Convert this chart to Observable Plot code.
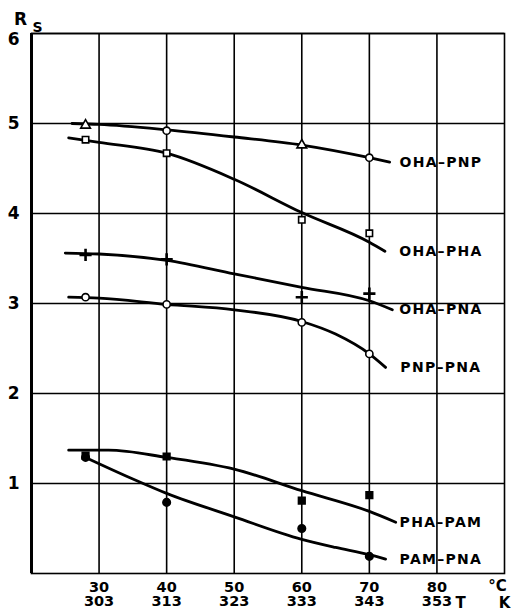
<!DOCTYPE html>
<html>
<head>
<meta charset="utf-8">
<script src="https://cdn.jsdelivr.net/npm/d3@7"></script>
<script src="https://cdn.jsdelivr.net/npm/@observablehq/plot@0.6"></script>
<style>
  body { margin: 0; background: #fff; }
  #chart svg { display: block; }
  #chart text.series-label { letter-spacing: 1.3px; }
</style>
</head>
<body>
<div id="chart"></div>
<script>
// Axes: temperature in °C (with Kelvin equivalents) and resolution Rs
const xDomain = [20, 90];
const yDomain = [0, 6];
const tempC = [30, 40, 50, 60, 70, 80];
const tempK = [303, 313, 323, 333, 343, 353];
const rsTicks = [1, 2, 3, 4, 5, 6];

// Measured resolution at each temperature
const measuredT = [28, 40, 60, 70];
const ohaPnp = [4.98, 4.92, 4.76, 4.62];
const ohaPha = [4.82, 4.67, 3.93, 3.78];
const ohaPna = [3.54, 3.49, 3.07, 3.11];
const pnpPna = [3.07, 2.99, 2.79, 2.44];
const phaPam = [1.31, 1.30, 0.81, 0.87];
const pamPna = [1.29, 0.79, 0.50, 0.19];

// Marker for each measured point
const ohaPnpSymbols = ["triangle", "circle", "triangle", "circle"];

// Smoothed trend curves (temperature, Rs)
const ohaPnpCurveT = [26, 30, 40, 50, 60, 70, 73];
const ohaPnpCurve  = [5.00, 4.99, 4.93, 4.85, 4.76, 4.62, 4.57];
const ohaPhaCurveT = [25.5, 30, 40, 50, 60, 70, 72.3];
const ohaPhaCurve  = [4.84, 4.79, 4.67, 4.38, 4.01, 3.68, 3.58];
const ohaPnaCurveT = [25, 30, 40, 50, 60, 70, 73.4];
const ohaPnaCurve  = [3.56, 3.55, 3.48, 3.33, 3.18, 3.03, 2.93];
const pnpPnaCurveT = [25.5, 30, 40, 50, 60, 65, 70, 72.4];
const pnpPnaCurve  = [3.07, 3.06, 2.99, 2.93, 2.80, 2.66, 2.44, 2.29];
const phaPamCurveT = [25.5, 31.4, 40, 50, 60, 70, 73.9];
const phaPamCurve  = [1.37, 1.37, 1.29, 1.16, 0.92, 0.69, 0.57];
const pamPnaCurveT = [28, 30, 35, 40, 50, 60, 65, 70, 72.4];
const pamPnaCurve  = [1.29, 1.22, 1.05, 0.89, 0.63, 0.38, 0.29, 0.21, 0.16];

const seriesNames = ["OHA–PNP", "OHA–PHA", "OHA–PNA", "PNP–PNA", "PHA–PAM", "PAM–PNA"];
const labelT = 80;

const zip = (xs, ys) => xs.map((x, i) => ({x, y: ys[i]}));

const curves = [
  zip(ohaPnpCurveT, ohaPnpCurve),
  zip(ohaPhaCurveT, ohaPhaCurve),
  zip(ohaPnaCurveT, ohaPnaCurve),
  zip(pnpPnaCurveT, pnpPnaCurve),
  zip(phaPamCurveT, phaPamCurve),
  zip(pamPnaCurveT, pamPnaCurve)
];

const labels = curves.map((c, i) => ({x: labelT, y: c[c.length - 1].y, name: seriesNames[i]}));

const font = "'DejaVu Sans', 'Liberation Sans', sans-serif";
const topTick = rsTicks[rsTicks.length - 1];

const chart = Plot.plot({
  width: 511,
  height: 616,
  marginTop: 33,
  marginLeft: 31,
  marginRight: 7,
  marginBottom: 43,
  x: {domain: xDomain, label: null},
  y: {domain: yDomain, label: null},
  style: {fontFamily: font, fontWeight: "bold", color: "black", background: "white"},
  marks: [
    Plot.ruleX(tempC, {stroke: "black", strokeWidth: 1.6}),
    Plot.ruleY(rsTicks, {stroke: "black", strokeWidth: 1.4}),
    Plot.frame({stroke: "black", strokeWidth: 1.6}),
    Plot.ruleX([xDomain[0]], {stroke: "black", strokeWidth: 3}),
    ...curves.map(c => Plot.line(c, {x: "x", y: "y", curve: "monotone-x", stroke: "black", strokeWidth: 2.8})),
    // open markers
    Plot.dot(zip(measuredT, ohaPnp).map((d, i) => ({...d, s: ohaPnpSymbols[i]})),
      {x: "x", y: "y", symbol: "s", r: 3.6, fill: "white", stroke: "black", strokeWidth: 1.6}),
    Plot.dot(zip(measuredT, ohaPha), {x: "x", y: "y", symbol: "square", r: 3.6, fill: "white", stroke: "black", strokeWidth: 1.6}),
    Plot.dot(zip(measuredT, ohaPna), {x: "x", y: "y", symbol: "plus", r: 4, stroke: "black", strokeWidth: 2.6}),
    Plot.dot(zip(measuredT, pnpPna), {x: "x", y: "y", symbol: "circle", r: 3.6, fill: "white", stroke: "black", strokeWidth: 1.6}),
    // filled markers
    Plot.dot(zip(measuredT, phaPam), {x: "x", y: "y", symbol: "square", r: 3.8, fill: "black", stroke: "black"}),
    Plot.dot(zip(measuredT, pamPna), {x: "x", y: "y", symbol: "circle", r: 3.8, fill: "black", stroke: "black"}),
    // series labels
    Plot.text(labels, {x: "x", y: "y", text: "name", fontSize: 14, fontWeight: "bold", textAnchor: "middle", dx: 4}),
    // axes (the top tick label sits just below its grid line, under the Rs title)
    Plot.axisY({ticks: rsTicks.slice(0, -1), label: null, tickSize: 0, tickPadding: 12, fontSize: 17, fontWeight: "bold", tickFormat: d => String(d)}),
    Plot.text([topTick], {x: xDomain[0], y: d => d, text: d => String(d), dx: -12, dy: 6, textAnchor: "end", fontSize: 17, fontWeight: "bold"}),
    Plot.axisX({ticks: tempC, label: null, tickSize: 0, tickPadding: 8, fontSize: 14.5, fontWeight: "bold", lineHeight: 1.0,
      tickFormat: (d, i) => `${d}\n${tempK[i]}`}),
    // axis titles
    Plot.text(["R"], {frameAnchor: "top-left", dx: -11, dy: -14, fontSize: 17, fontWeight: "bold", textAnchor: "middle", lineAnchor: "middle"}),
    Plot.text(["S"], {frameAnchor: "top-left", dx: 6, dy: -6, fontSize: 14, fontWeight: "bold", textAnchor: "middle", lineAnchor: "middle"}),
    Plot.text(["T"], {frameAnchor: "bottom-right", dx: -44, dy: 30, fontSize: 15, fontWeight: "bold", textAnchor: "middle", lineAnchor: "middle"}),
    Plot.text(["°C"], {frameAnchor: "bottom-right", dx: -7, dy: 13, fontSize: 15, fontWeight: "bold", textAnchor: "middle", lineAnchor: "middle"}),
    Plot.text(["K"], {frameAnchor: "bottom-right", dx: 0, dy: 30, fontSize: 15, fontWeight: "bold", textAnchor: "middle", lineAnchor: "middle"})
  ]
});

// widen the tracking of the series labels
d3.select(chart).selectAll("text")
  .filter(function() { return seriesNames.includes(this.textContent); })
  .classed("series-label", true);

document.getElementById("chart").append(chart);
</script>
</body>
</html>
